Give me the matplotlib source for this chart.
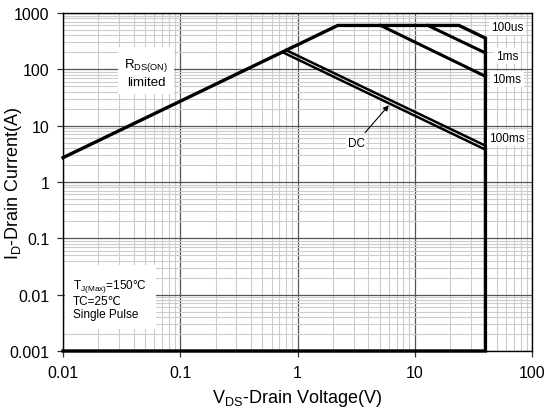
import matplotlib
matplotlib.use("Agg")
import matplotlib.pyplot as plt
from matplotlib.ticker import FixedLocator, FixedFormatter, LogLocator, NullFormatter

plt.rcParams['font.family'] = ['Liberation Sans', 'DejaVu Sans']
plt.rcParams['mathtext.fontset'] = 'custom'
plt.rcParams['mathtext.rm'] = 'Liberation Sans'
plt.rcParams['mathtext.it'] = 'Liberation Sans:italic'

# ---- data ----
boundary_v = [0.01, 2.2, 23.8, 40, 40, 0.01]
boundary_i = [2.7, 600, 600, 357, 0.001, 0.001]
ms1_v = [12.9, 40]
ms1_i = [600, 195]
ms10_v = [5.1, 40]
ms10_i = [600, 75]
ms100_v = [0.80, 40]
ms100_i = [218, 4.4]
dc_v = [0.745, 40]
dc_i = [201, 3.75]

x_ticks = [0.01, 0.1, 1, 10, 100]
x_labels = ['0.01', '0.1', '1', '10', '100']
y_ticks = [0.001, 0.01, 0.1, 1, 10, 100, 1000]
y_labels = ['0.001', '0.01', '0.1', '1', '10', '100', '1000']

fig = plt.figure(figsize=(5.48, 4.10), dpi=100)
ax = fig.add_axes([0.115, 0.1415, 0.856, 0.8245])
ax.set_xscale('log')
ax.set_yscale('log')
ax.set_xlim(0.01, 100)
ax.set_ylim(0.001, 1000)

ax.xaxis.set_major_locator(FixedLocator(x_ticks))
ax.xaxis.set_major_formatter(FixedFormatter(x_labels))
ax.yaxis.set_major_locator(FixedLocator(y_ticks))
ax.yaxis.set_major_formatter(FixedFormatter(y_labels))
ax.xaxis.set_minor_locator(LogLocator(base=10, subs=range(2, 10), numticks=20))
ax.yaxis.set_minor_locator(LogLocator(base=10, subs=range(2, 10), numticks=20))
ax.xaxis.set_minor_formatter(NullFormatter())
ax.yaxis.set_minor_formatter(NullFormatter())

ax.grid(which='major', color='#555555', lw=0.9)
ax.grid(which='minor', color='#cccccc', lw=0.8)
ax.set_axisbelow(True)
ax.tick_params(which='major', direction='out', length=4, width=0.9, labelsize=11.5, color='#333333', pad=6)
ax.tick_params(which='minor', length=0)
for s in ax.spines.values():
    s.set_color('black')
    s.set_linewidth(1.0)

ax.plot(boundary_v, boundary_i, color='black', lw=2.4, clip_on=False, solid_joinstyle='miter', zorder=5)
ax.plot(ms1_v, ms1_i, color='black', lw=2.2, zorder=5)
ax.plot(ms10_v, ms10_i, color='black', lw=2.2, zorder=5)
ax.plot(ms100_v, ms100_i, color='black', lw=1.8, zorder=5)
ax.plot(dc_v, dc_i, color='black', lw=1.8, zorder=5)

wb = dict(facecolor='white', edgecolor='none', pad=1.5)
fs = 8.5
ax.text(61, 565, '100us', fontsize=fs, ha='center', va='center', bbox=wb, zorder=6)
ax.text(61, 172, '1ms', fontsize=fs, ha='center', va='center', bbox=wb, zorder=6)
ax.text(61, 67, '10ms', fontsize=fs, ha='center', va='center', bbox=wb, zorder=6)
ax.text(61, 6.0, '100ms', fontsize=fs, ha='center', va='center', bbox=wb, zorder=6)

ax.annotate('DC', xy=(6.0, 23), xytext=(3.15, 4.9), fontsize=fs, ha='center', va='center',
            arrowprops=dict(arrowstyle='-|>', color='black', lw=0.8, mutation_scale=8, shrinkA=3, shrinkB=0),
            bbox=dict(facecolor='white', edgecolor='none', pad=1), zorder=6)

ax.text(0.051, 90, 'R$_\\mathrm{DS(ON)}$\nlimited', fontsize=9.5, ha='center', va='center', linespacing=1.4,
        bbox=dict(facecolor='white', edgecolor='none', pad=4), zorder=4)

ax.text(0.0122, 0.0085, 'T$_\\mathrm{J(Max)}$=150\u00b0C\nTC=25\u2103\nSingle Pulse', fontsize=8.5,
        ha='left', va='center', linespacing=1.15,
        bbox=dict(facecolor='white', edgecolor='none', pad=6), zorder=4)

ax.set_xlabel('V$_\\mathrm{DS}$-Drain Voltage(V)', fontsize=13, labelpad=5)
ax.set_ylabel('I$_\\mathrm{D}$-Drain Current(A)', fontsize=13)
ax.yaxis.set_label_coords(-0.083, 0.5)

fig.savefig('out.png', dpi=100, facecolor='white')
